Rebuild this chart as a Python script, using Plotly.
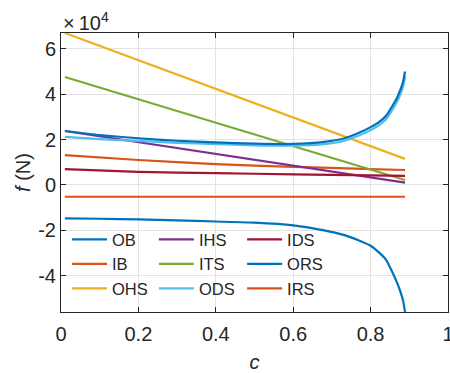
import plotly.graph_objects as go

# ---- data (f in units of 1e4 N) ----
c_curve = [0.01, 0.1, 0.2, 0.3, 0.4, 0.5, 0.6, 0.68, 0.73, 0.77, 0.8, 0.82, 0.84, 0.855, 0.867, 0.877, 0.884, 0.889]
OB  = [-1.47, -1.49, -1.52, -1.56, -1.61, -1.66, -1.78, -2.0, -2.2, -2.45, -2.68, -2.95, -3.3, -3.8, -4.25, -4.7, -5.1, -5.6]
ORS = [2.38, 2.2, 2.06, 1.95, 1.88, 1.82, 1.81, 1.9, 2.05, 2.3, 2.55, 2.75, 3.05, 3.45, 3.8, 4.2, 4.55, 5.0]
ODS = [2.12, 2.02, 1.94, 1.86, 1.8, 1.75, 1.73, 1.8, 1.94, 2.18, 2.42, 2.62, 2.9, 3.28, 3.62, 4.0, 4.35, 4.8]

c_soft = [0.01, 0.2, 0.4, 0.6, 0.8, 0.889]
IB  = [1.32, 1.10, 0.92, 0.80, 0.70, 0.66]
IDS = [0.70, 0.58, 0.52, 0.47, 0.42, 0.40]

c_line = [0.01, 0.45, 0.889]
OHS = [6.70, 3.93, 1.15]
ITS = [4.76, 2.49, 0.22]
IHS = [2.38, 1.24, 0.10]
IRS = [-0.52, -0.52, -0.52]

x_ticks = [0, 0.2, 0.4, 0.6, 0.8, 1]
x_ticktext = ["0", "0.2", "0.4", "0.6", "0.8", "1"]
y_ticks = [-4, -2, 0, 2, 4, 6]
y_ticktext = ["-4", "-2", "0", "2", "4", "6"]

# ---- style ----
C = ["#0072BD", "#D95319", "#EDB120", "#7E2F8E", "#77AC30", "#4DBEEE", "#A2142F"]
FONT = "Liberation Sans, Arial, sans-serif"
INK = "#262626"
LW = 2.2

series = [
    ("OB", c_curve, OB, C[0], "legend", True),
    ("IB", c_soft, IB, C[1], "legend", True),
    ("OHS", c_line, OHS, C[2], "legend", False),
    ("IHS", c_line, IHS, C[3], "legend2", False),
    ("ITS", c_line, ITS, C[4], "legend2", False),
    ("ODS", c_curve, ODS, C[5], "legend2", True),
    ("IDS", c_soft, IDS, C[6], "legend3", True),
    ("ORS", c_curve, ORS, C[0], "legend3", True),
    ("IRS", c_line, IRS, C[1], "legend3", False),
]

fig = go.Figure()
for name, xs, ys, col, leg, smooth in series:
    fig.add_trace(go.Scatter(
        x=xs, y=ys, name=name, mode="lines", legend=leg,
        line=dict(color=col, width=LW, shape="spline" if smooth else "linear", smoothing=0.5),
    ))

axis_common = dict(
    showline=True, linecolor=INK, linewidth=1, mirror="ticks",
    ticks="inside", ticklen=5, tickcolor=INK, tickwidth=1,
    showgrid=True, gridcolor="#e3e3e3", gridwidth=1, zeroline=False,
    tickfont=dict(family=FONT, size=20, color=INK), automargin=False,
    ticklabeloverflow="allow",
)

leg_common = dict(
    bgcolor="rgba(0,0,0,0)", borderwidth=0, orientation="v",
    xanchor="left", yanchor="top", y=0.322,
    font=dict(family=FONT, size=16.5, color=INK),
    itemwidth=35, tracegroupgap=0,
)

fig.update_layout(
    width=450, height=373,
    margin=dict(l=61, r=2, t=33, b=61),
    paper_bgcolor="white", plot_bgcolor="white",
    font=dict(family=FONT, color=INK),
    xaxis=dict(range=[0, 1], tickvals=x_ticks, ticktext=x_ticktext, ticklabelstandoff=4,
               title=dict(text="<i>c</i>", font=dict(family=FONT, size=20, color=INK), standoff=10),
               **axis_common),
    yaxis=dict(range=[-5.6, 6.7], tickvals=y_ticks, ticktext=y_ticktext,
               title=dict(text="<i>f</i> (N)", font=dict(family=FONT, size=20, color=INK), standoff=2),
               **axis_common),
    legend=dict(x=0.0155, **leg_common),
    legend2=dict(x=0.240, **leg_common),
    legend3=dict(x=0.468, **leg_common),
    annotations=[dict(
        text="×\u200910<sup>4</sup>", xref="paper", yref="paper", x=0, y=1,
        xanchor="left", yanchor="bottom", showarrow=False, yshift=-3,
        font=dict(family=FONT, size=20, color=INK),
    )],
)

fig.write_html(
    "out.html",
    config={"displayModeBar": False},
    post_script=(
        "document.documentElement.style.overflow='hidden';"
        "document.body.style.margin='0';document.body.style.padding='0';"
        "document.body.style.overflow='hidden';"
    ),
)
